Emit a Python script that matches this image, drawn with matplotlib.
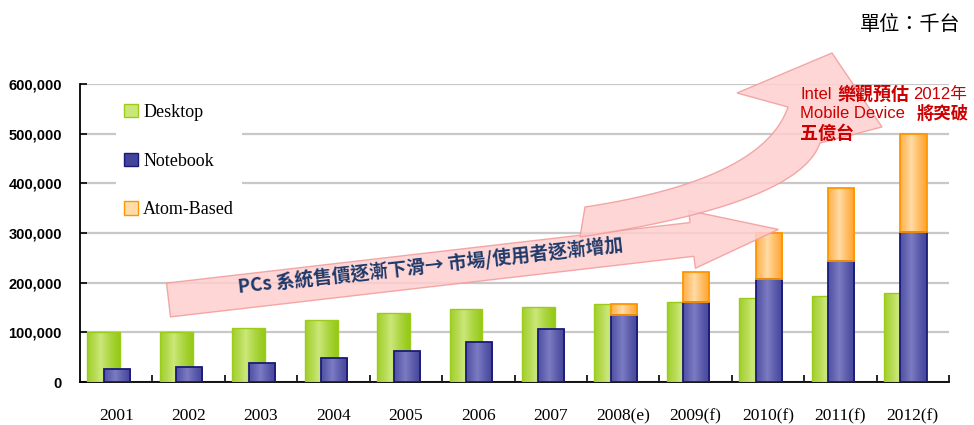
import numpy as np
import matplotlib
matplotlib.use("Agg")
import matplotlib.pyplot as plt
from matplotlib.patches import Patch, Polygon
from matplotlib.colors import to_rgb

# ---------------- data (thousand units) ----------------
years = ["2001", "2002", "2003", "2004", "2005", "2006", "2007",
         "2008(e)", "2009(f)", "2010(f)", "2011(f)", "2012(f)"]
desktop = [100000, 100000, 108000, 125000, 139000, 147000, 151000,
           157000, 161000, 169000, 173000, 179000]
notebook = [26000, 30000, 38000, 48000, 62000, 80000, 106000,
            134000, 161000, 207000, 243000, 303000]
atom = [0, 0, 0, 0, 0, 0, 0, 23000, 60000, 92000, 148000, 197000]
series_names = ["Desktop", "Notebook", "Atom-Based"]
yticks = [0, 100000, 200000, 300000, 400000, 500000, 600000]

W, H = 974, 425
fig = plt.figure(figsize=(W / 100, H / 100), dpi=100)
ax = fig.add_axes([80 / W, 1 - 382 / H, (949 - 80) / W, (382 - 84) / H])

CJK = ["Noto Sans CJK TC", "DejaVu Sans"]


def px(x, y):
    return (x / W, 1 - y / H)


def gradient_fill(bars, dark, light):
    d = np.array(to_rgb(dark))
    l = np.array(to_rgb(light))
    t = np.linspace(0, 1, 64)
    prof = np.clip(1 - np.abs(t - 0.42) / 0.62, 0, 1) ** 1.3
    cols = d[None, :] + (l - d)[None, :] * prof[:, None]
    img = cols[None, :, :]
    for b in bars:
        if b.get_height() <= 0:
            b.set_linewidth(0)
            b.set_visible(False)
            continue
        x0, y0 = b.get_x(), b.get_y()
        im = ax.imshow(img, extent=[x0, x0 + b.get_width(), y0, y0 + b.get_height()],
                       aspect="auto", origin="lower", interpolation="bilinear",
                       zorder=b.get_zorder() - 0.01)
        im.set_clip_path(b)


x = np.arange(len(years))
c_desk = ("#94c814", "#cbe77a", "#9ccc1a")
c_note = ("#44449a", "#7c7cc4", "#1a1a7a")
c_atom = ("#ffa42e", "#ffdca8", "#ff9600")

b1 = ax.bar(x - 0.17, desktop, width=0.455, facecolor="none",
            edgecolor=c_desk[2], linewidth=1.0, zorder=3)
gradient_fill(b1, c_desk[0], c_desk[1])
b2 = ax.bar(x + 0.01, notebook, width=0.36, facecolor="none",
            edgecolor=c_note[2], linewidth=1.3, zorder=4)
gradient_fill(b2, c_note[0], c_note[1])
b3 = ax.bar(x + 0.01, atom, width=0.36, bottom=notebook, facecolor="none",
            edgecolor=c_atom[2], linewidth=1.3, zorder=4)
gradient_fill(b3, c_atom[0], c_atom[1])

ax.set_xlim(-0.5, len(years) - 0.5)
ax.set_ylim(0, 600000)
ax.set_yticks(yticks)
ax.set_yticklabels([f"{v:,}" for v in yticks],
                   fontfamily="Liberation Sans", fontweight="bold", fontsize=10.5)
ax.set_xticks(x)
ax.set_xticklabels(years, fontfamily="Liberation Serif", fontsize=12.5)
ax.set_xticks(np.arange(len(years)) + 0.5, minor=True)
ax.tick_params(axis="x", which="major", length=0, pad=19)
ax.tick_params(axis="x", which="minor", direction="in", length=5, width=1.2)
ax.tick_params(axis="y", direction="in", length=5, width=1.2, pad=13)
ax.yaxis.grid(True, color="#c8c8c8", linewidth=1.6)
ax.set_axisbelow(True)
for s in ["top", "right"]:
    ax.spines[s].set_visible(False)
for s in ["left", "bottom"]:
    ax.spines[s].set_linewidth(1.3)
    ax.spines[s].set_color("black")

handles = [Patch(facecolor=c_desk[1], edgecolor=c_desk[2]),
           Patch(facecolor=c_note[0], edgecolor=c_note[2]),
           Patch(facecolor=c_atom[1], edgecolor=c_atom[2])]
leg = ax.legend(handles, series_names, loc="upper left",
                bbox_to_anchor=px(116, 96), bbox_transform=fig.transFigure,
                prop={"family": "Liberation Serif", "size": 13},
                handlelength=0.75, handleheight=0.75, handletextpad=0.3,
                labelspacing=1.75, borderpad=0.45, borderaxespad=0,
                frameon=True, fancybox=False)
leg.get_frame().set_facecolor("white")
leg.get_frame().set_edgecolor("none")
leg.get_frame().set_alpha(1)

# ---------------- annotation arrows (pixel space) ----------------
arrow_face = (1.0, 0.81, 0.81)
arrow_edge = "#f29a9a"

# straight arrow
S = np.array([168.5, 300.0])
ang = np.deg2rad(6.6)
u = np.array([np.cos(ang), -np.sin(ang)])
n = np.array([np.sin(ang), np.cos(ang)])
L, hl, w, hw = 614.0, 87.0, 17.0, 29.0
pts = [S - n * w, S + u * (L - hl) - n * w, S + u * (L - hl) - n * hw,
       S + u * L, S + u * (L - hl) + n * hw, S + u * (L - hl) + n * w, S + n * w]
poly1 = Polygon([px(*p) for p in pts], closed=True, transform=fig.transFigure,
                facecolor=arrow_face, edgecolor=arrow_edge, linewidth=1.0,
                alpha=0.85, zorder=5)
fig.add_artist(poly1)


def bez(p0, c, p1, m=40):
    t = np.linspace(0, 1, m)[:, None]
    p0, c, p1 = map(np.array, (p0, c, p1))
    return (1 - t) ** 2 * p0 + 2 * (1 - t) * t * c + t ** 2 * p1


inner = bez((585, 207), (763, 180), (788, 107))
outer = bez((580, 237), (799, 204), (820, 143))
curve_pts = list(inner) + [np.array([737, 93]), np.array([832, 53]),
                           np.array([882, 127])] + list(outer[::-1])
poly2 = Polygon([px(*p) for p in curve_pts], closed=True, transform=fig.transFigure,
                facecolor=arrow_face, edgecolor=arrow_edge, linewidth=1.0,
                alpha=0.85, zorder=6)
fig.add_artist(poly2)

fig.text(*px(430, 266), "PCs 系統售價逐漸下滑→ 市場/使用者逐漸增加",
         family=CJK, fontweight="bold", fontsize=13.5, color="#1f3a6a",
         rotation=6.3, rotation_mode="anchor", ha="center", va="center", zorder=8)

red = "#cc0000"
LAT = ["Liberation Sans", "Noto Sans CJK TC"]
fig.text(*px(800, 99), "Intel", family=LAT, fontsize=12, color=red, va="baseline", zorder=8)
fig.text(*px(838, 100), "樂觀預估", family=CJK, fontweight="bold", fontsize=13,
         color=red, va="baseline", zorder=8)
fig.text(*px(913, 99), "2012年", family=LAT, fontsize=12, color=red, va="baseline", zorder=8)
fig.text(*px(800, 118), "Mobile Device", family=LAT, fontsize=12, color=red,
         va="baseline", zorder=8)
fig.text(*px(917, 119), "將突破", family=CJK, fontweight="bold", fontsize=12.5,
         color=red, va="baseline", zorder=8)
fig.text(*px(800, 139), "五億台", family=CJK, fontweight="bold", fontsize=13,
         color=red, va="baseline", zorder=8)

fig.text(*px(960, 25), "單位：千台", family=CJK, fontsize=14.5, color="black",
         ha="right", va="center")

fig.savefig("out.png", dpi=100)
